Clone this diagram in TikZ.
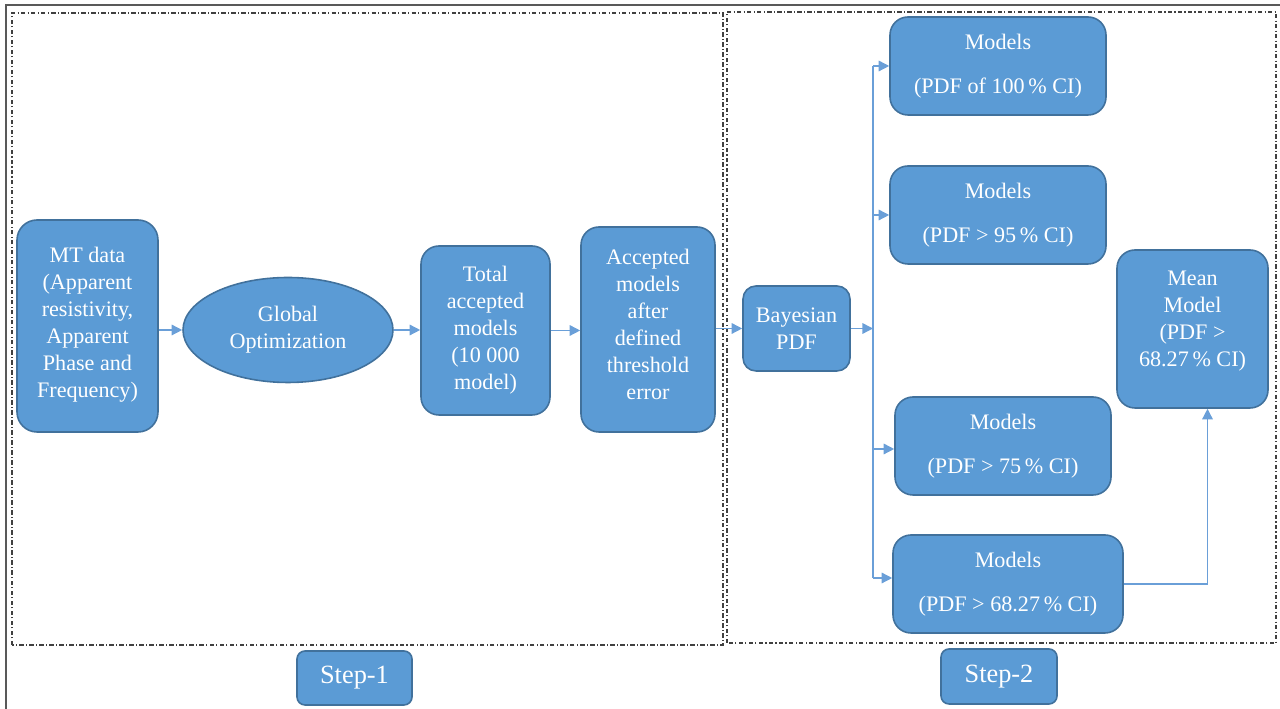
\documentclass[tikz,border=0pt]{standalone}
\usepackage{fontspec}
\setmainfont{Liberation Serif}
\usetikzlibrary{arrows.meta,shapes.geometric}
\definecolor{boxblue}{HTML}{5B9BD5}
\definecolor{boxedge}{HTML}{41719C}
\definecolor{lineblue}{HTML}{6A9FD8}
\tikzset{
	blok/.style={draw=boxedge, line width=0.9pt, fill=boxblue, text=white, rounded corners=#1, align=center, inner sep=0pt, font=\fontsize{12.6}{15.4}\selectfont},
	blok/.default=0.36cm,
	arr/.style={draw=lineblue, line width=0.8pt, -{Triangle[length=6pt,width=6pt]}},
	wire/.style={draw=lineblue, line width=0.8pt},
	frame/.style={draw=black!75, line width=0.6pt, dash pattern=on 2.5pt off 1.3pt on 0.6pt off 1.3pt}
}

\begin{document}
\begin{tikzpicture}
			%%%%% START %%%%%
			\useasboundingbox (0, 0) rectangle (25.6, 14.18);
			
			\draw[line width=1pt, color=black!65] (0.12, 0) -- (0.12, 14.08) -- (25.6, 14.08);
			
			\draw[frame] (0.24, 1.28) rectangle (14.46, 13.92);
			\draw[frame] (14.54, 1.32) rectangle (25.52, 13.94);
			
			%% step 1
			\node[blok=0.4cm, minimum width=2.82cm, minimum height=4.24cm] (mt) at (1.75, 7.66) {MT data\\(Apparent\\resistivity,\\Apparent\\Phase and\\Frequency)\\[-0.4cm]};
			\node[blok, ellipse, minimum width=4.2cm, minimum height=2.1cm] (opt) at (5.76, 7.58) {Global\\Optimization};
			\node[blok, minimum width=2.58cm, minimum height=3.38cm] (total) at (9.71, 7.57) {Total\\accepted\\models\\(10 000\\model)};
			\node[blok, minimum width=2.68cm, minimum height=4.1cm] (acc) at (12.96, 7.59) {Accepted\\models\\after\\defined\\threshold\\error\\[-0.34cm]};
			
			%% step 2
			\node[blok=0.26cm, minimum width=2.14cm, minimum height=1.7cm] (bayes) at (15.93, 7.61) {Bayesian\\PDF};
			\node[blok, minimum width=4.32cm, minimum height=1.96cm] (m100) at (19.96, 12.86) {Models\\[0.34cm](PDF of 100\,\% CI)};
			\node[blok, minimum width=4.32cm, minimum height=1.96cm] (m95) at (19.96, 9.88) {Models\\[0.34cm](PDF > 95\,\% CI)};
			\node[blok, minimum width=4.32cm, minimum height=1.96cm] (m75) at (20.06, 5.26) {Models\\[0.34cm](PDF > 75\,\% CI)};
			\node[blok, minimum width=4.6cm, minimum height=1.96cm] (m68) at (20.16, 2.5) {Models\\[0.34cm](PDF > 68.27\,\% CI)};
			\node[blok, minimum width=3.02cm, minimum height=3.16cm] (mean) at (23.85, 7.6) {Mean\\Model\\(PDF >\\68.27\,\% CI)\\[-0.14cm]};
			
			\node[blok=0.16cm, minimum width=2.3cm, minimum height=1.08cm, font=\fontsize{15}{18}\selectfont] (step1) at (7.09, 0.62) {Step-1};
			\node[blok=0.16cm, minimum width=2.32cm, minimum height=1.1cm, font=\fontsize{15}{18}\selectfont] (step2) at (19.98, 0.65) {Step-2};
			
			%% arrows
			\draw[arr] (opt.west -| mt.east) -- (opt.west);
			\draw[arr] (opt.east) -- (total.west |- opt.east);
			\draw[arr] (total.east) -- (acc.west |- total.east);
			\draw[arr] (acc.east |- bayes.west) -- (bayes.west);
			
			\coordinate (bustop) at (17.46, 12.86);
			\coordinate (busbot) at (17.46, 2.62);
			\draw[wire] (bustop) -- (busbot);
			\draw[arr] (bayes.east) -- (bayes.east -| bustop);
			\draw[arr] (bustop) -- (m100.west);
			\draw[arr] (bustop |- m95.west) -- (m95.west);
			\draw[arr] (17.46, 5.2) -- (m75.west |- 0, 5.2);
			\draw[arr] (busbot) -- (m68.west |- busbot);
			\draw[arr] (m68.east) -| ([xshift=0.3cm]mean.south);
			
			%%%%% END %%%%%
		\end{tikzpicture}
\end{document}
